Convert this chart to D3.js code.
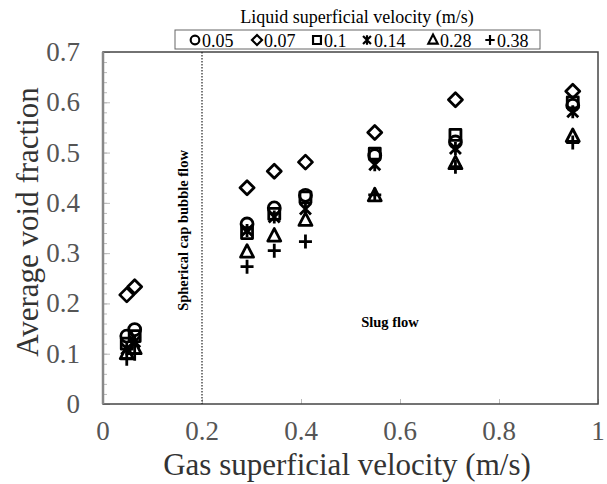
<!DOCTYPE html>
<html>
<head>
<meta charset="utf-8">
<script src="https://cdn.jsdelivr.net/npm/d3@7"></script>
<style>
  body { margin: 0; background: #fff; }
  svg { display: block; font-family: 'Liberation Serif', 'Times New Roman', serif; }
</style>
</head>
<body>
<svg id="chart" width="607" height="484"></svg>
<script>
// gas superficial velocity (m/s), one per test point
const gasVelocity = [0.048, 0.064, 0.291, 0.346, 0.409, 0.549, 0.712, 0.949];

// liquid superficial velocity series
const liquidLabels = ['0.05', '0.07', '0.1', '0.14', '0.28', '0.38'];
const markerTypes = ['circle', 'diamond', 'square', 'cross', 'triangle', 'plus'];

const void005 = [0.135, 0.148, 0.358, 0.390, 0.415, 0.494, 0.521, 0.594];
const void007 = [0.217, 0.233, 0.430, 0.463, 0.481, 0.540, 0.605, 0.622];
const void010 = [0.120, 0.135, 0.340, 0.378, 0.411, 0.498, 0.535, 0.600];
const void014 = [0.110, 0.124, 0.345, 0.372, 0.388, 0.476, 0.508, 0.581];
const void028 = [0.100, 0.110, 0.302, 0.334, 0.365, 0.414, 0.478, 0.532];
const void038 = [0.090, 0.100, 0.273, 0.305, 0.323, 0.416, 0.472, 0.520];
const seriesValues = [void005, void007, void010, void014, void028, void038];

const xTicks = [0, 0.2, 0.4, 0.6, 0.8, 1];
const yTicks = [0, 0.1, 0.2, 0.3, 0.4, 0.5, 0.6, 0.7];
const regimeBoundary = 0.2;

const svg = d3.select('#chart');
const plot = { left: 103, right: 598, top: 52, bottom: 404 };

const x = d3.scaleLinear().domain([0, 1]).range([plot.left, plot.right]);
const y = d3.scaleLinear().domain([0, 0.7]).range([plot.bottom, plot.top]);

// marker shapes drawn as open outlines
function markerPath(type) {
  switch (type) {
    case 'circle': return 'M6,0A6,6 0 1,1 -6,0A6,6 0 1,1 6,0Z';
    case 'diamond': return 'M0,-7L7,0L0,7L-7,0Z';
    case 'square': return 'M-5.5,-5.5H5.5V5.5H-5.5Z';
    case 'cross': return 'M-5.5,-5.5L5.5,5.5M5.5,-5.5L-5.5,5.5M0,-6.5V6.5';
    case 'triangle': return 'M0,-7.5L6.5,5L-6.5,5Z';
    case 'plus': return 'M-6.5,0H6.5M0,-7V7';
  }
}

// minor y ticks every 0.02
svg.append('g')
  .attr('transform', `translate(${plot.left},0)`)
  .call(d3.axisRight(y).tickValues(d3.range(0, 0.701, 0.02)).tickSize(4).tickFormat(''))
  .call(g => g.select('.domain').remove())
  .call(g => g.selectAll('line').attr('stroke', '#bbb'));

// major y ticks
svg.append('g')
  .attr('transform', `translate(${plot.left},0)`)
  .call(d3.axisRight(y).tickValues(yTicks).tickSize(7).tickFormat(''))
  .call(g => g.select('.domain').remove())
  .call(g => g.selectAll('line').attr('stroke', '#bbb'));

// x ticks
svg.append('g')
  .attr('transform', `translate(0,${plot.bottom})`)
  .call(d3.axisTop(x).tickValues(xTicks).tickSize(5).tickFormat(''))
  .call(g => g.select('.domain').remove())
  .call(g => g.selectAll('line').attr('stroke', '#bbb'));

// tick labels
svg.append('g')
  .selectAll('text')
  .data(yTicks)
  .join('text')
  .attr('x', 80)
  .attr('y', d => y(d) + 9)
  .attr('text-anchor', 'end')
  .attr('font-size', 27)
  .attr('fill', '#555')
  .text(d => d3.format('')(d));

svg.append('g')
  .selectAll('text')
  .data(xTicks)
  .join('text')
  .attr('x', d => x(d))
  .attr('y', 440)
  .attr('text-anchor', 'middle')
  .attr('font-size', 27)
  .attr('fill', '#555')
  .text(d => d3.format('')(d));

// frame
svg.append('rect')
  .attr('x', plot.left).attr('y', plot.top)
  .attr('width', plot.right - plot.left).attr('height', plot.bottom - plot.top)
  .attr('fill', 'none').attr('stroke', '#444').attr('stroke-width', 1.5);
svg.append('line')
  .attr('x1', plot.left).attr('x2', plot.left)
  .attr('y1', plot.top).attr('y2', plot.bottom)
  .attr('stroke', '#888').attr('stroke-width', 2.5);

// flow regime boundary
svg.append('line')
  .attr('x1', x(regimeBoundary)).attr('x2', x(regimeBoundary))
  .attr('y1', plot.top).attr('y2', plot.bottom)
  .attr('stroke', '#222').attr('stroke-width', 1.2).attr('stroke-dasharray', '1.5,1.5');

svg.append('text')
  .attr('transform', `translate(${x(regimeBoundary) - 14},${y(0.345)}) rotate(-90)`)
  .attr('text-anchor', 'middle')
  .attr('font-size', 14.5)
  .attr('font-weight', 'bold')
  .text('Spherical cap bubble flow');

svg.append('text')
  .attr('x', 390).attr('y', 327)
  .attr('text-anchor', 'middle')
  .attr('font-size', 14.5)
  .attr('font-weight', 'bold')
  .text('Slug flow');

// data points
const points = [];
seriesValues.forEach((vals, i) => {
  vals.forEach((v, j) => points.push({ gx: gasVelocity[j], v, type: markerTypes[i] }));
});

svg.append('g')
  .selectAll('path')
  .data(points)
  .join('path')
  .attr('transform', d => `translate(${x(d.gx)},${y(d.v)})`)
  .attr('d', d => markerPath(d.type))
  .attr('fill', 'none')
  .attr('stroke', '#000')
  .attr('stroke-width', 2.8)
  .attr('stroke-linejoin', 'round');

// axis titles
svg.append('text')
  .attr('transform', 'translate(38,222) rotate(-90)')
  .attr('text-anchor', 'middle')
  .attr('font-size', 31)
  .attr('fill', '#333')
  .text('Average void fraction');

svg.append('text')
  .attr('x', 347).attr('y', 475)
  .attr('text-anchor', 'middle')
  .attr('font-size', 31)
  .attr('fill', '#333')
  .text('Gas superficial velocity (m/s)');

// legend
svg.append('text')
  .attr('x', 357).attr('y', 23)
  .attr('text-anchor', 'middle')
  .attr('font-size', 18)
  .text('Liquid superficial velocity (m/s)');

svg.append('rect')
  .attr('x', 175).attr('y', 30)
  .attr('width', 365).attr('height', 19)
  .attr('fill', '#fff').attr('stroke', '#666').attr('stroke-width', 1);

const legendX = [195, 257, 317, 367, 433, 490];
const legend = svg.append('g')
  .selectAll('g')
  .data(liquidLabels)
  .join('g')
  .attr('transform', (d, i) => `translate(${legendX[i]},40)`);

legend.append('path')
  .attr('d', (d, i) => markerPath(markerTypes[i]))
  .attr('transform', 'scale(0.72)')
  .attr('fill', 'none')
  .attr('stroke', '#000')
  .attr('stroke-width', 3);

legend.append('text')
  .attr('x', 7)
  .attr('y', 6.5)
  .attr('font-size', 18)
  .text(d => d);
</script>
</body>
</html>
